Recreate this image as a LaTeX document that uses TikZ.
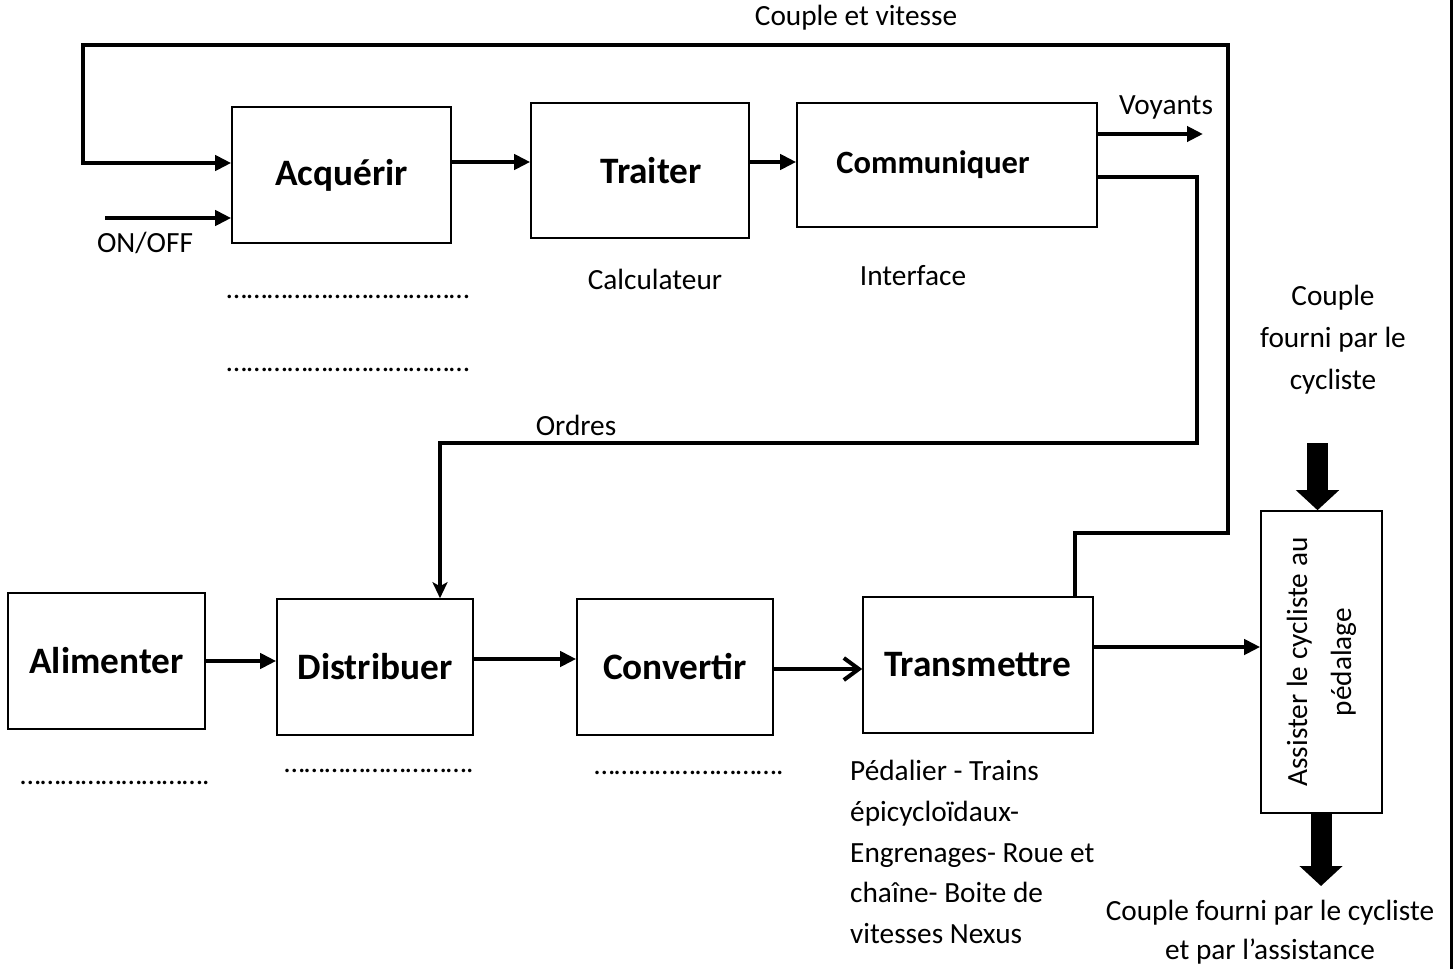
\documentclass[tikz,border=0pt]{standalone}
\usepackage{fontspec}
\setmainfont{Carlito}
\usetikzlibrary{arrows.meta,calc}
\newcommand{\elp}{…}
\begin{document}
\begin{tikzpicture}[x=1pt,y=-1pt,
  box/.style={draw,line width=1.6pt,inner sep=0pt,font=\fontsize{37.3}{44}\selectfont\bfseries},
  conn/.style={line width=4pt},
  arr/.style={conn,-{Triangle[length=16pt,width=15pt]}},
  darr/.style={conn,-{Stealth[length=16pt,width=15pt,inset=4pt]}},
  oarr/.style={conn,-{Straight Barb[length=15pt,width=22pt,line width=4pt]}},
  fat/.style={line width=21pt,-{Triangle[length=20pt,width=42pt]}},
  txt/.style={inner sep=0pt,font=\fontsize{29.3}{35}\selectfont},
]
\useasboundingbox (0,0) rectangle (1453,969);

% blocks
\node[box,minimum width=219pt,minimum height=136pt] (acq) at (341.5,175) {Acquérir};
\node[box,minimum width=218pt,minimum height=135pt] (tra) at (640,170.5) {\hspace*{22pt}Traiter};
\node[box,minimum width=300pt,minimum height=124pt,font=\fontsize{32.5}{38}\selectfont\bfseries] (com) at (947,165) {\hspace*{-28pt}Communiquer};
\node[box,minimum width=197pt,minimum height=136pt] (ali) at (106.5,661) {Alimenter};
\node[box,minimum width=196pt,minimum height=136pt] (dis) at (375,667) {Distribuer};
\node[box,minimum width=196pt,minimum height=136pt] (con) at (675,667) {Convertir};
\node[box,minimum width=230pt,minimum height=136pt] (trm) at (978,665) {Transmettre};
\node[draw,line width=1.6pt,minimum width=121pt,minimum height=302pt] (asst) at (1321.5,662) {};
\node[txt,rotate=90,align=center,font=\fontsize{29.3}{44}\selectfont] (asstlbl) at (asst.center) {Assister le cycliste au\\pédalage};

% helper coordinates
\coordinate (c1) at (1075,533);
\coordinate (c2) at (1228,533);
\coordinate (c3) at (1228,45);
\coordinate (c4) at (83,45);
\coordinate (c5) at (83,163);
\coordinate (on) at (105,218);
\coordinate (y162) at (0,162);
\coordinate (v) at (1203,134);
\coordinate (o1) at (1197,177);
\coordinate (o2) at (1197,443);
\coordinate (o3) at (440,443);
\coordinate (y661) at (0,661);
\coordinate (y659) at (0,659);
\coordinate (y669) at (0,669);
\coordinate (y647) at (0,647);
\coordinate (f1) at (1317.5,443);
\coordinate (f2) at (1321,886);

% connectors
\draw[arr] (trm.north -| c1) -- (c1) -- (c2) -- (c3) -- (c4) -- (c5) -- (c5 -| acq.west);
\draw[arr] (on) -- (on -| acq.west);
\draw[arr] (acq.east |- y162) -- (tra.west |- y162);
\draw[arr] (tra.east |- y162) -- (com.west |- y162);
\draw[arr] (com.east |- v) -- (v);
\draw[darr] (com.east |- o1) -- (o1) -- (o2) -- (o3) -- (o3 |- dis.north);
\draw[arr] (ali.east |- y661) -- (dis.west |- y661);
\draw[arr] (dis.east |- y659) -- (con.west |- y659);
\draw[oarr] (con.east |- y669) -- (trm.west |- y669);
\draw[arr] (trm.east |- y647) -- (asst.west |- y647);
\draw[fat] (f1) -- (f1 |- asst.north);
\draw[fat] (asst.south -| f2) -- (f2);

% page edge
\draw[line width=3pt] (1451,0) -- (1451,969);

% texts
\node[txt] (t1) at (856,18) {Couple et vitesse};
\node[txt] (t2) at (1166,107) {Voyants};
\node[txt] (t3) at (145,243) {ON/OFF};
\node[txt] (t4) at (655,279) {Calculateur};
\node[txt] (t5) at (913,276) {Interface};
\node[txt] (d1) at (348,297) {\elp\elp\elp\elp\elp\elp\elp\elp\elp\elp\elp\elp};
\node[txt] (d2) at (348,370) {\elp\elp\elp\elp\elp\elp\elp\elp\elp\elp\elp\elp};
\node[txt,align=center,font=\fontsize{29.3}{42}\selectfont] (t6) at (1333,340) {Couple\\fourni par le\\cycliste};
\node[txt] (t7) at (576,425) {Ordres};
\node[txt] (d3) at (115,783) {……………………….};
\node[txt] (d4) at (379,771) {……………………….};
\node[txt] (d5) at (689,773) {……………………….};
\node[txt,align=left,anchor=west,font=\fontsize{29.3}{40.6}\selectfont] (t8) at (850,852) {Pédalier - Trains\\épicycloïdaux-\\Engrenages- Roue et\\chaîne- Boite de\\vitesses Nexus};
\node[txt,align=center,font=\fontsize{29.3}{39}\selectfont] (t9) at (1270,932) {Couple fourni par le cycliste\\et par l’assistance};
\end{tikzpicture}
\end{document}
